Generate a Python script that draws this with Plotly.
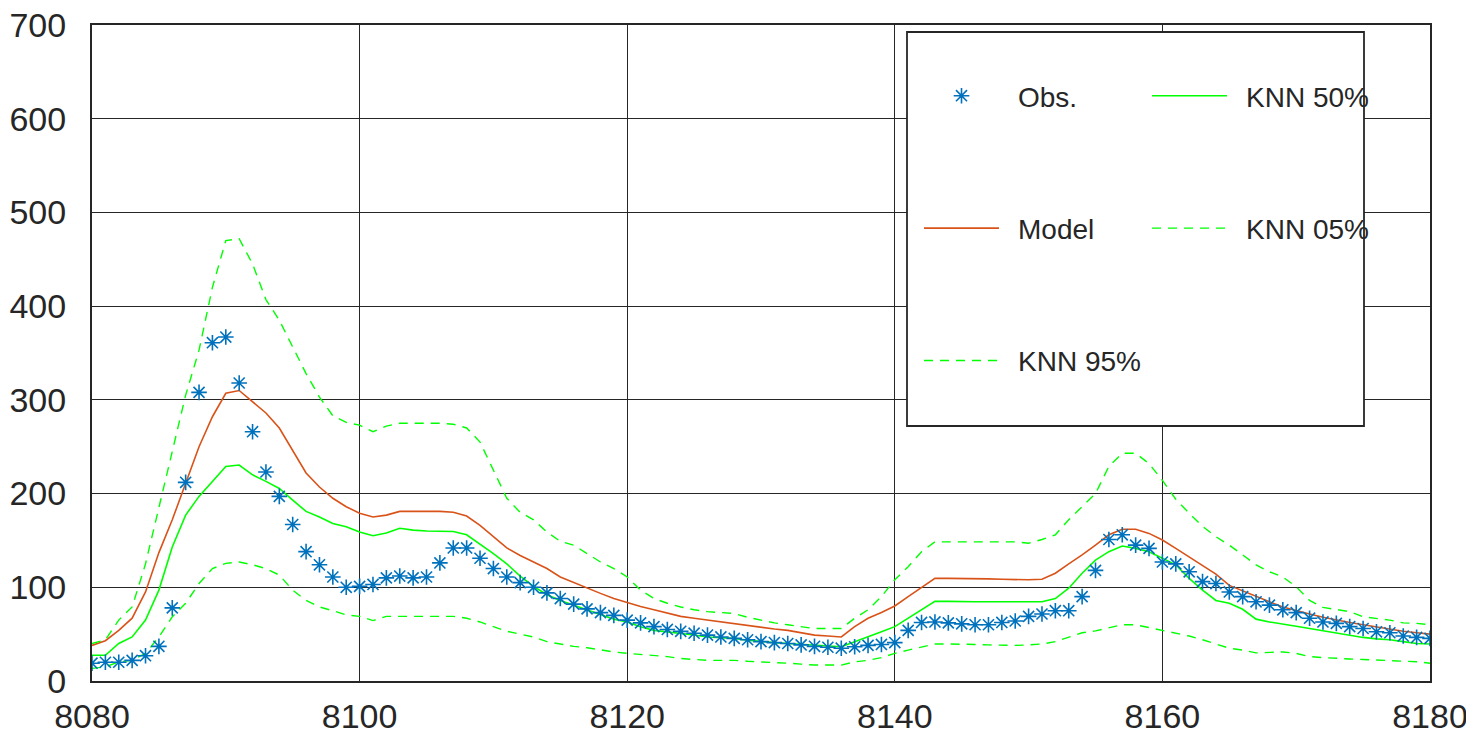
import plotly.graph_objects as go

x_vals = list(range(8080, 8181))

obs = [19, 20, 20, 22, 27, 37, 78, 212, 308, 361,
       367, 318, 266, 223, 197, 167, 138, 124, 111, 100,
       101, 103, 110, 112, 110, 111, 126, 142, 142, 131,
       120, 111, 105, 100, 94, 88, 82, 77, 73, 70,
       65, 62, 58, 55, 53, 51, 49, 47, 45.5, 44,
       42, 41, 40, 38.5, 37, 36, 35, 36.5, 38, 39,
       41, 54, 62.5, 63, 62, 61, 60, 60, 62.5, 64,
       69, 71.5, 75, 75, 90, 118, 151, 156, 145, 141.5,
       127, 125, 116.5, 106, 104, 95, 90, 84.5, 81, 76,
       73, 67, 63, 61.5, 58, 56, 52.5, 51.5, 48, 46.5,
       45.5]

model = [38, 43, 54, 67, 95, 137, 172, 211, 250, 282,
         307, 310, 298, 286, 270, 246, 222, 207, 195, 186,
         179, 175, 177, 181, 181, 181, 181, 180, 176, 166,
         154, 142, 134, 127, 120, 111, 105, 99, 93.5, 88,
         83.5, 79.5, 76, 72.5, 69, 67, 65, 63, 61, 59,
         57, 55.5, 54, 51.5, 49, 48, 47, 58, 67, 73,
         80, 90, 100, 109.5, 109.5, 109.5, 109.5, 109, 108.5, 108,
         108, 108.5, 115, 125, 134.5, 145, 156, 162, 162, 157.5,
         150.5, 141.5, 132.5, 123, 114, 102, 96, 90, 84.5, 79,
         75, 71.5, 68, 65, 62.5, 60, 57.5, 55, 53, 51.5,
         50]

knn50 = [27.5, 27.5, 40, 47, 65, 97, 143, 177, 197, 213,
         229, 230.5, 220, 213, 205.5, 193, 181, 175, 168, 164.5,
         159, 155, 158, 163, 161, 160, 160, 159.5, 156, 146,
         136, 125, 112, 101, 92, 86, 81, 76.5, 71, 66,
         63, 58, 54, 52.5, 51, 49, 47, 46, 45.5, 43.5,
         42, 41, 40, 39, 38, 37.5, 36.5, 42, 47, 52.5,
         58, 67, 76, 85, 85, 84.5, 84.5, 84.5, 84.5, 84.5,
         84.5, 84.5, 88, 99, 115, 129, 138, 144, 141.5, 138,
         131, 124, 109.5, 97, 86, 83, 76.5, 66, 63, 61,
         58.5, 56, 53.5, 51, 49, 46.5, 45, 44, 42, 40,
         39.5]

knn95 = [40, 44, 65, 79, 125, 185, 243, 305, 353, 420,
         470, 472, 445, 407, 385, 357, 328, 303, 283, 276,
         273, 266, 272, 275, 275, 275, 275, 274, 270, 255,
         225, 195, 180, 172, 159, 149, 145, 136, 127, 120,
         111, 97, 88, 83, 79, 76, 74, 73, 72, 68,
         65, 62, 60, 58, 56, 56, 56, 67, 76, 90,
         108, 122, 138, 148.5, 148.5, 148.5, 148.5, 148.5, 148.5, 148.5,
         147, 151, 156, 172, 186, 200, 229, 243, 243, 232,
         214, 194, 179, 165, 154, 145, 134.5, 124, 116.5, 111,
         100.5, 86, 78.5, 76, 74, 68.5, 67, 65, 62, 61.5,
         60]

knn05 = [13.5, 15, 20.5, 22, 29.5, 47, 68.5, 83, 104, 120,
         125.5, 127, 124, 120, 113, 97, 86, 79, 75, 70.5,
         69, 64.5, 69, 69, 69, 69, 69, 69, 67, 63,
         58, 53, 50, 47, 42, 39.5, 37, 35.5, 33, 31,
         29.5, 28.5, 27.5, 26, 24, 23, 22, 22, 22, 21,
         20.5, 20, 19, 18, 17, 17, 17, 20.5, 22, 25,
         29.5, 33, 36.5, 39.5, 39.5, 39.5, 39, 38.5, 38, 38,
         38.5, 39.5, 42, 47, 51.5, 53.5, 57, 60, 60, 57,
         54, 51, 48, 44, 39.5, 35, 33, 30, 30.5, 31,
         29.5, 26, 25, 24, 23.5, 23, 22.5, 22, 21, 20.5,
         19]

x_ticks = [8080, 8100, 8120, 8140, 8160, 8180]
y_ticks = [0, 100, 200, 300, 400, 500, 600, 700]

BLUE = "#0072BD"
ORANGE = "#D95319"
GREEN = "#00FF00"
DASH = "9px,7px"
GAP = "\u2002"

fig = go.Figure()

fig.add_trace(go.Scatter(x=x_vals, y=model, mode="lines", name=GAP + "Model",
                         line=dict(color=ORANGE, width=1.6),
                         legend="legend", legendgroup="g2", legendrank=2))
fig.add_trace(go.Scatter(x=x_vals, y=knn50, mode="lines", name=GAP + "KNN 50%",
                         line=dict(color=GREEN, width=1.6),
                         legend="legend2", legendgroup="g4", legendrank=1))
fig.add_trace(go.Scatter(x=x_vals, y=knn05, mode="lines", name=GAP + "KNN 05%",
                         line=dict(color=GREEN, width=1.4, dash=DASH),
                         legend="legend2", legendgroup="g5", legendrank=2))
fig.add_trace(go.Scatter(x=x_vals, y=knn95, mode="lines", name=GAP + "KNN 95%",
                         line=dict(color=GREEN, width=1.4, dash=DASH),
                         legend="legend", legendgroup="g3", legendrank=3))
fig.add_trace(go.Scatter(x=x_vals, y=obs, mode="markers", name=GAP + "Obs.",
                         marker=dict(symbol="asterisk-open", size=13,
                                     line=dict(color=BLUE, width=1.6), color=BLUE),
                         legend="legend", legendgroup="g1", legendrank=1))

# plot area in figure pixels: x 84..1422 (1338 wide), y 17..673 (656 tall)
PW, PH = 1338, 656

# legend frame (white box above the plot data, below the legend text)
fig.add_shape(type="rect", xref="paper", yref="paper",
              x0=815 / PW, x1=1272 / PW,
              y0=(PH - 401) / PH, y1=(PH - 7) / PH,
              line=dict(color="#262626", width=1.8), fillcolor="white",
              layer="above")

font_family = "Liberation Sans, Arial, sans-serif"
legend_common = dict(
    bgcolor="rgba(0,0,0,0)", borderwidth=0,
    font=dict(family=font_family, size=28, color="#262626"),
    tracegroupgap=93, itemwidth=75, yanchor="top", xanchor="left",
    traceorder="grouped",
)

fig.update_layout(
    width=1466, height=724,
    margin=dict(l=84, r=44, t=17, b=51, autoexpand=False),
    paper_bgcolor="white", plot_bgcolor="white",
    font=dict(family=font_family, size=34, color="#262626"),
    showlegend=True,
    legend=dict(x=(820 + 7) / PW, y=(PH - 46) / PH, **legend_common),
    legend2=dict(x=(1049 + 6) / PW, y=(PH - 46) / PH, **legend_common),
    xaxis=dict(range=[8080, 8180], tickvals=x_ticks, ticktext=[str(v) for v in x_ticks],
               showgrid=True, gridcolor="#262626", gridwidth=1.3,
               showline=True, linecolor="#262626", linewidth=2, mirror=True,
               ticks="inside", ticklen=8, tickcolor="#262626",
               zeroline=False, ticklabelstandoff=4, automargin=False,
               ticklabeloverflow="allow",
               tickfont=dict(size=34)),
    yaxis=dict(range=[0, 700], tickvals=y_ticks, ticktext=[str(v) for v in y_ticks],
               showgrid=True, gridcolor="#262626", gridwidth=1.3,
               showline=True, linecolor="#262626", linewidth=2, mirror=True,
               ticks="inside", ticklen=8, tickcolor="#262626",
               zeroline=False, ticklabelstandoff=17, automargin=False,
               ticklabeloverflow="allow",
               tickfont=dict(size=34)),
)

fig.write_html("out.html")
